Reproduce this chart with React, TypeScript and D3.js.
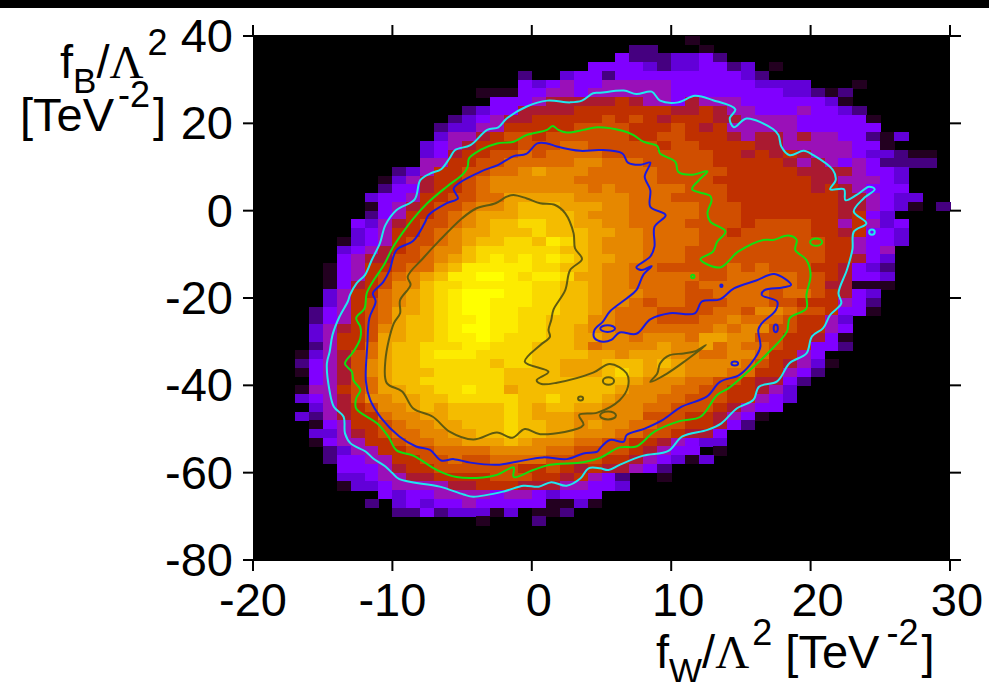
import * as d3 from "d3";

const fwTicks = [-20, -10, 0, 10, 20, 30];
const fbTicks = [40, 20, 0, -20, -40, -60, -80];

// first occupied fW bin of each fB row, top row first (bins are 1 x 2 TeV^-2)
const rowStart = [31, 27, 26, 24, 19, 19, 16, 17, 15, 14, 13, 13, 12, 12, 12, 10, 9, 9, 8, 8, 8, 7, 7, 6, 6, 6, 5, 5, 5, 5, 5, 4, 4, 4, 4, 4, 3, 3, 3, 4, 3, 3, 4, 3, 4, 4, 4, 5, 5, 6, 6, 6, 9, 8, 10, 16];
const rowLevels = [
  "1",
  "220001",
  "42223342",
  "44443233442301",
  "200344244444444432",
  "4345445555544444433330001",
  "111445545555554444444433212",
  "44456666676554655544444431",
  "23446666777777766765544454432",
  "2345667777787876777665555444441",
  "23355777778888777876755555444444",
  "3556788788888877887776566565544213",
  "3456777888998888878877776655555441",
  "3467788989999888888887767676555433211",
  "55778899999aa999888887777765654542222",
  "235778899abaaa99999888887777766665443",
  "13567789aaaaaa999999888877777776655543",
  "24467789aaaaaaa9a999998887777776765444",
  "3445778899bbbbbaaaa999888877777777665433",
  "14567889aabcccbbbaa99999888777777766543102",
  "2457789abbbccccbaaa9999988877777776743",
  "43567889abccddccbbaa99998888788887757534",
  "3457789abbcccdcccbbaa9999887888887767443",
  "13457889abccddcedcbaaa9999888888888775443",
  "3456789aacddddddccbaaa999888888888877545",
  "4566889abcdedededcbbaa999888888888877643",
  "14577899bceeeeeddccbaa9988888989888776432",
  "145789abceeffedeedbbaa9999988999998876443",
  "14678aacddeeeeeddccbaa9999899999998866111",
  "35779abcdefffeeddccbaaa99988999989987643",
  "35789abcdeffeeeddccbaa989988899988777542",
  "245789bbcdeffeedddccba9998888998aa9887441",
  "245789bccdeefeeddcccaa99988899a99987753",
  "35678abccdeffeeddccbaa9999999a9aa887754",
  "35778bbccdeefedddccbbaa9aaa9bbaa8877641",
  "25779bccdddeedddcccb9aaaabaab9a99877442",
  "135689bccdeeeddddccccbbabbbaa99aa97754",
  "24568abccdddddcddccbbbcccbcbaaaa9876531",
  "14568abcccdddddccccbbbcdcbbbaaa9977542",
  "45689bccddddddcccccccccbaaa998876642",
  "155789bbccddeddbcccccccbaaa998877653",
  "34568aabbccdddddccdcccbaaa9988877543",
  "35678aabcbccccdcbccbbaaa9988876544",
  "3256779aabbccccdcbbbaaaaa888776541",
  "1457789aabbcccdccbbabaa998877642",
  "33567899aabbccdccbbaaa99887664",
  "145577899aabbbcbaaa99887765433",
  "235577889999aaaa9988887654401",
  "2445577889889999888877654313",
  "444567788888877876766542",
  "334556677778887767542001",
  "133455556677766655443",
  "4344555545543444",
  "20343445444441131",
  "2242333130112",
  "10002",
];

const cyanContour = [
  [-13.04, -19.3], [-12.56, -16.6], [-11.96, -14.7], [-11.48, -11.3], [-10.9, -7.5], [-10.5, -3.3], [-9.7, 0.15], [-8.4, 2.6], [-8, 7], [-7.3, 8.5], [-6.5, 9.5], [-5.9, 12], [-5.5, 13.9], [-4.4, 15], [-3.2, 18.5], [-2.4, 19.1], [-1.8, 21.1], [-0.4, 23.8], [1.1, 25.2], [2.75, 24.8], [3.6, 25.2], [4.4, 26.9], [4.9, 27], [6.6, 27.5], [7.5, 26.7], [8.6, 27.25], [9.2, 25.2], [10.5, 24.8], [11.7, 26.3], [13, 25.3], [14.6, 23.2], [14.2, 21.1], [14.5, 19.1], [15.4, 21.1], [17.3, 18.7], [17.7, 17.3], [17.9, 14.7], [18.5, 12.7], [19.5, 13.7], [20.2, 12.7], [21.6, 9.3], [21.8, 7], [21.4, 4.9], [22.4, 4.9], [22.5, 2.4], [23.3, 3.6], [24.2, 5.5], [24.6, 4.9], [23.8, 2.8], [23.1, -0.2], [24, -2.9], [23.1, -4.8], [23, -8.9], [22.6, -13.6], [22, -18.9], [22.2, -21.2], [21.4, -23.9], [20.9, -26.9], [20.1, -28.8], [19.7, -32.7], [18.5, -34.9], [17.6, -39.1], [16.3, -40.3], [15.9, -43.3], [14.7, -45.3], [13.6, -48.7], [12.6, -50.2], [10.8, -51.7], [9.8, -55], [8, -56.1], [6.3, -58.2], [5.5, -59.4], [4.9, -59], [4.07, -59], [3.5, -61.3], [2.5, -63], [1.4, -62.2], [0.5, -63.2], [-0.6, -63], [-2, -64.3], [-4.2, -65.5], [-4.9, -65], [-6.6, -63.2], [-9.5, -61.5], [-10, -60.1], [-10.5, -58.6], [-11.4, -56.7], [-11.9, -55.2], [-13, -53.3], [-13.4, -51], [-13.5, -47.2], [-14.2, -44.9], [-14.5, -41.4], [-14.7, -35], [-14.5, -32.3], [-14.3, -28.5], [-13.8, -24.3], [-13.2, -20.8],
];

const greenContour = [
  [-11.84, -18.9], [-11.25, -15.5], [-10.6, -12.4], [-10, -8.6], [-9.3, -5.2], [-8.5, -1.8], [-7.5, 1.7], [-6.1, 5.5], [-4.9, 8.5], [-4.6, 10.1], [-4.5, 12], [-3.7, 13.9], [-2.5, 15.4], [-1.3, 15.8], [-0.4, 17.3], [1.1, 18.5], [1.5, 19.4], [1.9, 18.5], [2.5, 17.9], [3.7, 18.5], [4.7, 19.1], [6.5, 18.3], [7.3, 17.3], [8, 15.8], [9, 14.8], [9.2, 13.1], [10.3, 11.2], [10.5, 8.9], [11.4, 8.2], [12.6, 9], [12, 7], [11.5, 4.9], [12.8, 3.4], [12.9, 2.4], [12.6, -0.6], [12.8, -2.5], [13.9, -4.8], [13.3, -7.1], [13, -9.4], [12.1, -11.1], [13.5, -13], [14.8, -9.4], [16.6, -6.7], [17.3, -6.7], [18.4, -5.7], [19, -6.7], [18.9, -9], [19.7, -11.3], [20, -14.7], [19.7, -19.3], [19.7, -22.4], [18.5, -24.6], [18.3, -27.7], [16.9, -32.7], [15.4, -37.2], [14.1, -40.7], [13.3, -42.2], [12.1, -47.2], [10.6, -48.2], [8.8, -50.6], [7.5, -54], [6.3, -54.2], [4.9, -56.6], [3.7, -57.6], [1.3, -58.2], [0.1, -59.4], [-1.3, -61], [-1.3, -58.8], [-2.5, -60.5], [-3.5, -61.1], [-5.4, -61], [-6.8, -59.4], [-8.5, -56.1], [-9.7, -54.9], [-10.3, -51.7], [-11.1, -48.7], [-12.6, -45.3], [-12.6, -43], [-12.3, -41.1], [-12.8, -38.8], [-12.9, -36.9], [-13.4, -35], [-12.8, -32.3], [-12.3, -29.2], [-12.3, -26.6], [-12.6, -24.6], [-12, -22.4],
];

const blueContour = [
  [-11.4, -18.9], [-10.65, -16.3], [-10.2, -13.6], [-9.7, -9], [-8.5, -6.9], [-7.7, -2.9], [-7.4, -1], [-6.1, 1.7], [-5.3, 2.8], [-5.6, 5.1], [-3.7, 8.9], [-2.4, 10.5], [-1.3, 12.5], [-0.4, 13], [0.4, 15.4], [1.1, 15.4], [1.8, 14.7], [3.5, 13.7], [4.9, 13.9], [6.5, 13.1], [6.9, 11], [7.8, 10.5], [8.5, 11], [8.1, 7.8], [8.5, 4.7], [8.5, 0.9], [9.6, -1], [8.8, -3.7], [8.8, -8.2], [8.5, -10.5], [7.5, -13], [7.9, -13.6], [8.6, -12.7], [8, -14.7], [7.5, -18.2], [6.8, -20.1], [5.6, -23.1], [5.1, -25.4], [4.5, -27.3], [4.5, -29.2], [5.1, -30], [5.7, -29.6], [6.3, -27.9], [7.5, -28.2], [8.5, -24.9], [9.9, -23.5], [11.7, -23.5], [12.2, -20.8], [13.5, -20.3], [14.5, -17.8], [16.1, -16], [17.4, -14.5], [18.6, -17], [18, -17.6], [16.7, -18.2], [16.5, -19.3], [17.6, -20.8], [17.5, -22.8], [16.5, -25.8], [16.25, -27.3], [16.4, -31.1], [16, -33.8], [14.9, -37.6], [13.5, -39.2], [12.55, -42.6], [10.75, -44.9], [9.4, -47.9], [8.1, -49.9], [6.8, -51.4], [6.6, -52.9], [5.6, -52.5], [4.9, -54.4], [4.7, -55.2], [3.7, -55.6], [2.5, -56.9], [0.8, -56.5], [-1.1, -57.5], [-2.5, -58.2], [-4.4, -57.7], [-5.6, -56.9], [-6.5, -57.2], [-7.3, -54.8], [-8.3, -54], [-9.5, -51.7], [-10.8, -47.5], [-11.6, -43.3], [-11.9, -39.1], [-11.8, -30.8], [-11.65, -24.6], [-11.2, -20.8],
];

const oliveContour = [
  [-1.32, 3.6], [-0.36, 2.8], [0.6, 1.7], [1.67, 1.3], [2.4, -0.6], [3, -5.2], [3.1, -8.6], [3.6, -11.1], [2.75, -13.6], [2.4, -18.2], [1.55, -22.7], [1.4, -25], [1.2, -27.3], [1.3, -28.9], [0.6, -30.8], [-0.5, -34.6], [1.2, -36.9], [0.35, -38.8], [0.7, -39.7], [1.8, -39.4], [4.4, -37.1], [5.6, -35.1], [6.8, -37.25], [6.9, -40.3], [6.3, -43.4], [4.7, -46.25], [3.4, -46.8], [3.7, -49.1], [0.6, -51.2], [-0.5, -50], [-1.4, -52], [-2.5, -50.8], [-4.2, -52.4], [-5.9, -50.6], [-7.1, -47.2], [-8.5, -45.3], [-9.3, -41.4], [-10.4, -39.5], [-10.5, -34.2], [-9.9, -25.8], [-9.45, -23.5], [-9.45, -20.5], [-8.7, -17], [-8.9, -15.1], [-7.8, -10.9], [-6.7, -7.1], [-5, -1.75], [-4, 0.5], [-2.6, 1.7], [-1.8, 3.2],
];

const oliveLens = [
  [12.5, -30.8], [11.8, -32.1], [10.9, -32.7], [9.9, -33.1], [9.2, -35], [9, -37.3], [8.5, -39.2], [9.7, -37.3], [11.1, -34.2],
];

// small closed islands: fW, fB, half width, half height
const cyanIslands = [[24.4, -4.9, 0.2, 0.6]];
const greenIslands = [[20.4, -7.2, 0.43, 0.85], [11.55, -15.1, 0.12, 0.4]];
const blueIslands = [[5.44, -27, 0.53, 0.76], [13.6, -17.2, 0.08, 0.3], [17.5, -26.95, 0.15, 0.9], [14.56, -35, 0.24, 0.45]];
const oliveIslands = [[5.5, -39, 0.4, 0.85], [5.47, -46.9, 0.57, 0.9], [3.5, -43, 0.18, 0.45]];

const palette = ["#000000", "#230020", "#450080", "#6200d8", "#8000ff", "#9a10b8", "#aa1a30", "#c03000", "#d04e00", "#de6c00", "#e68800", "#eea200", "#f4bc00", "#f9d800", "#fdec00", "#ffff00"];

const contourSets = [
  { path: cyanContour, islands: cyanIslands, color: "#20e8f0" },
  { path: greenContour, islands: greenIslands, color: "#10e010" },
  { path: blueContour, islands: blueIslands, color: "#1a1ae0" },
  { path: oliveContour, islands: oliveIslands, color: "#5f5a10" },
];

const x = d3.scaleLinear().domain([-20, 30]).range([253, 950]);
const y = d3.scaleLinear().domain([40, -80]).range([36, 560]);
const color = d3.scaleLinear<string>().domain(d3.range(16)).range(palette);

const contourLine = d3.line<number[]>()
  .x(d => x(d[0]))
  .y(d => y(d[1]))
  .curve(d3.curveCatmullRomClosed.alpha(0.5));

const sans = "'Liberation Sans', Arial, sans-serif";
const symbol = "'Liberation Serif', serif";

function Heatmap() {
  const cells = rowLevels.flatMap((row, r) =>
    row.split("").map((ch, i) => ({
      bin: rowStart[r] + i,
      r,
      level: parseInt(ch, 16),
    })).filter(c => c.level > 0)
  );
  return <g shapeRendering="crispEdges">
    <rect x={253} y={35} width={x(30) - 253} height={y(-80) - 35 + 1} fill="#000"/>
    {cells.map(c => (
      <rect key={c.r + "_" + c.bin}
            x={x(c.bin - 20)}
            y={y(40 - 2 * c.r)}
            width={x(c.bin - 19) - x(c.bin - 20) + 0.5}
            height={y(38 - 2 * c.r) - y(40 - 2 * c.r) + 0.5}
            fill={color(c.level)}/>
    ))}
  </g>;
}

function Contours() {
  return <g fill="none" strokeWidth={2} strokeLinejoin="round">
    {contourSets.map(set => (
      <g key={set.color} stroke={set.color}>
        <path d={contourLine(set.path) ?? ""}/>
        {set.islands.map(([fw, fb, rw, rb]) => (
          <ellipse key={fw + "_" + fb} cx={x(fw)} cy={y(fb)}
                   rx={x(fw + rw) - x(fw)} ry={y(fb - rb) - y(fb)}/>
        ))}
      </g>
    ))}
    <path d={contourLine(oliveLens) ?? ""} stroke="#5f5a10"/>
  </g>;
}

function Axes() {
  return <g fontFamily={sans} fontSize={47} fill="#000">
    <g stroke="#000" strokeWidth={2}>
      {fwTicks.map(t => (
        <g key={t}>
          <line x1={x(t)} x2={x(t)} y1={25} y2={35}/>
          <line x1={x(t)} x2={x(t)} y1={560} y2={571}/>
        </g>
      ))}
      {fbTicks.map(t => (
        <g key={t}>
          <line x1={243} x2={253} y1={y(t)} y2={y(t)}/>
          <line x1={950} x2={961} y1={y(t)} y2={y(t)}/>
        </g>
      ))}
    </g>
    {fwTicks.map(t => (
      <text key={t} x={x(t) + (t < 0 ? 0 : 7)} y={616} textAnchor="middle">{t}</text>
    ))}
    {fbTicks.map(t => (
      <text key={t} x={233} y={y(t) + 16} textAnchor="end">{t}</text>
    ))}
  </g>;
}

function Labels() {
  return <g fontFamily={sans} fontSize={47} fill="#000">
    <text x={60} y={78}>
      f<tspan fontSize={35} dy={15}>B</tspan>
      <tspan dy={-15}>/</tspan>
      <tspan fontFamily={symbol}>Λ</tspan>
      <tspan fontSize={36} dx={4} dy={-23}>2</tspan>
    </text>
    <text x={20} y={131}>
      [TeV<tspan fontSize={36} dx={4} dy={-24}>-2</tspan>
      <tspan dx={3} dy={24}>]</tspan>
    </text>
    <text x={656} y={668}>
      f<tspan fontSize={35} dy={15}>W</tspan>
      <tspan dy={-15}>/</tspan>
      <tspan fontFamily={symbol}>Λ</tspan>
      <tspan fontSize={36} dx={3} dy={-23}>2</tspan>
      <tspan dy={23}> [TeV</tspan>
      <tspan fontSize={36} dx={7} dy={-23}>-2</tspan>
      <tspan dx={3} dy={23}>]</tspan>
    </text>
  </g>;
}

export default function App() {
  return (
    <svg width={989} height={682} viewBox="0 0 989 682"
         style={{position: "absolute", left: 0, top: 0, background: "#fff"}}>
      <rect x={0} y={0} width={989} height={8} fill="#000"/>
      <Heatmap/>
      <Contours/>
      <Axes/>
      <Labels/>
    </svg>
  );
}
